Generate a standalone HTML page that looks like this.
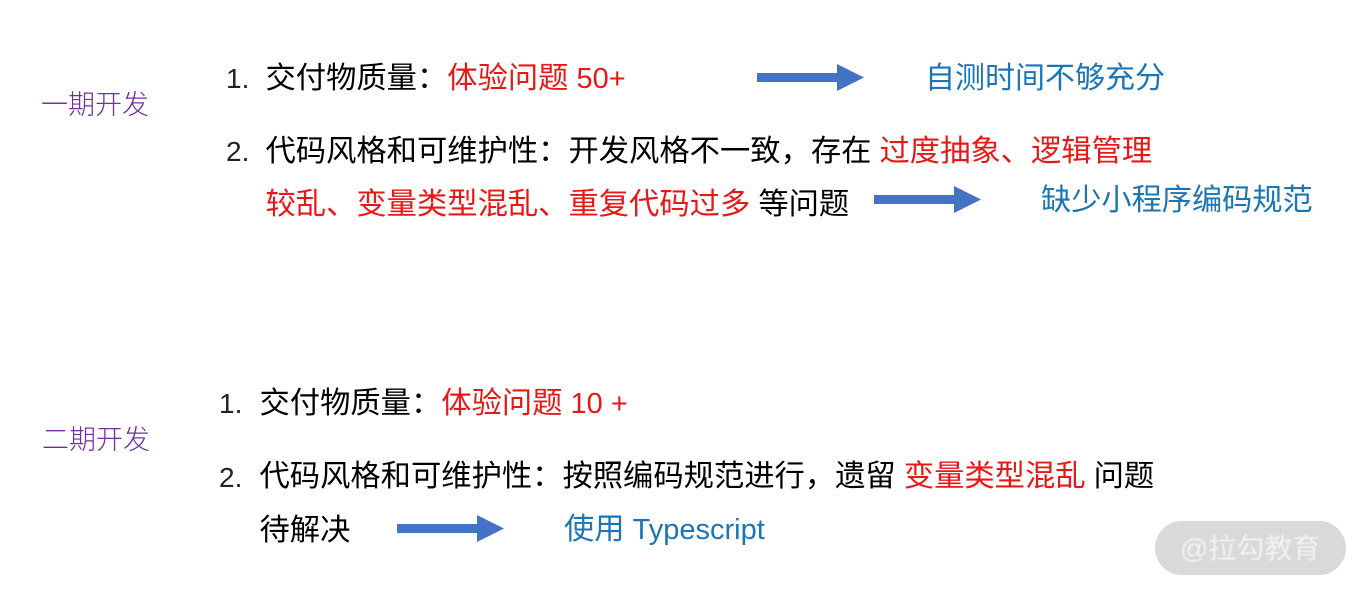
<!DOCTYPE html>
<html><head><meta charset="utf-8"><style>
html,body{margin:0;padding:0;background:#fff;width:1366px;height:593px;overflow:hidden}
.t{position:absolute;white-space:pre;line-height:40px;height:40px;font-family:"Liberation Sans","Noto Sans CJK SC",sans-serif;font-size:30.3px;color:#000;font-weight:400}
.r{color:#e81818}.b{color:#1a76b4}.p{color:#7030a0;font-size:27px;font-weight:300}
.n{color:#222;font-size:28px}
i{font-style:normal;font-size:29px}
svg{position:absolute;left:0;top:0}
</style></head><body>
<svg width="1366" height="593">
<g fill="#4472c4">
<polygon points="757,73 837,73 837,64 864,77.500 837,91 837,82 757,82"/>
<polygon points="874,195 954,195 954,186 981,199.500 954,213 954,204 874,204"/>
<polygon points="397,524 477,524 477,515 504,528.500 477,542 477,533 397,533"/>
</g>
<rect x="1155" y="521" width="191" height="54" rx="27" fill="#d9d9d9"/>
</svg>
<div class="t p" style="left:41px;top:85px">一期开发</div>
<div class="t p" style="left:42px;top:420px">二期开发</div>
<div class="t n" style="left:226px;top:59px">1.</div>
<div class="t" style="left:265.500px;top:59px">交付物质量：<span class="r">体验问题<i> 50+</i></span></div>
<div class="t b" style="left:925px;top:59px;font-size:30px">自测时间不够充分</div>
<div class="t n" style="left:226px;top:132px">2.</div>
<div class="t" style="left:265.500px;top:132px">代码风格和可维护性：开发风格不一致，存在<i> </i><span class="r">过度抽象、逻辑管理</span></div>
<div class="t r" style="left:265.500px;top:185px">较乱、变量类型混乱、重复代码过多<i> </i><span style="color:#000">等问题</span></div>
<div class="t b" style="left:1041px;top:181px;font-size:30.200px">缺少小程序编码规范</div>
<div class="t n" style="left:219px;top:384px">1.</div>
<div class="t" style="left:259.500px;top:384px">交付物质量：<span class="r">体验问题<i> 10 +</i></span></div>
<div class="t n" style="left:219px;top:458px">2.</div>
<div class="t" style="left:259.500px;top:457px">代码风格和可维护性：按照编码规范进行，遗留<i> </i><span class="r">变量类型混乱</span><i> </i>问题</div>
<div class="t" style="left:259.500px;top:511px">待解决</div>
<div class="t b" style="left:564px;top:510px">使用<i> Typescript</i></div>
<div class="t" style="left:1180px;top:529px;font-size:28px;color:#f2f2f2;filter:blur(.5px)">@拉勾教育</div>
</body></html>
